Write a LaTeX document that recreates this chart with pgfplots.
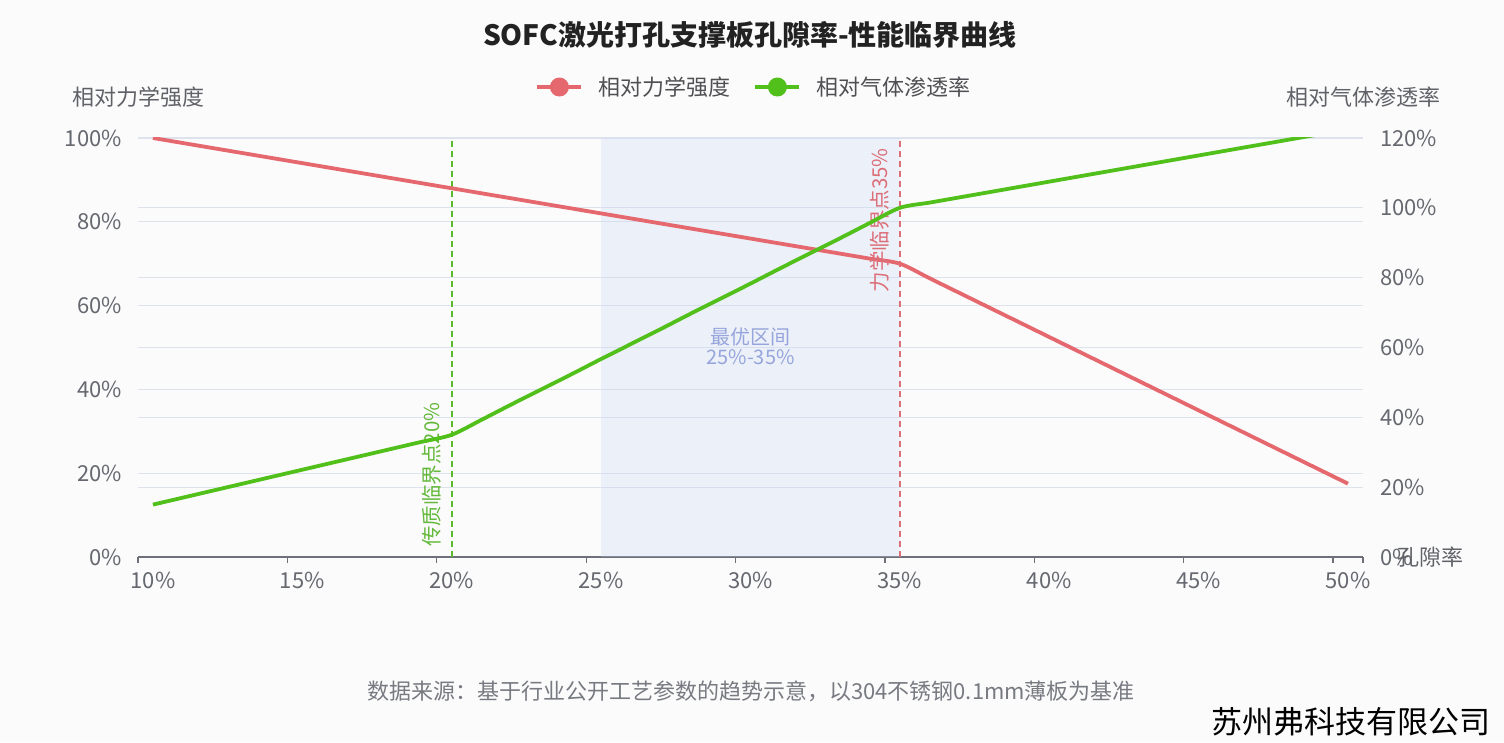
\documentclass[border=0pt]{standalone}
\usepackage{pgfplots}
\pgfplotsset{compat=1.18}
\usepackage{pgfplotstable}
\usepackage{fontspec}
\setmainfont{Noto Sans CJK SC}
\definecolor{bgcol}{RGB}{251,251,251}
\definecolor{gridcol}{RGB}{221,226,236}
\definecolor{axisgray}{RGB}{110,112,121}
\definecolor{labelgray}{RGB}{102,104,112}
\definecolor{namegray}{RGB}{96,98,104}
\definecolor{legendgray}{RGB}{80,80,84}
\definecolor{titlecol}{RGB}{34,34,34}
\definecolor{footcol}{RGB}{120,122,130}
\definecolor{redline}{RGB}{229,104,111}
\definecolor{greenline}{RGB}{82,192,26}
\definecolor{redlabel}{RGB}{220,110,120}
\definecolor{greendash}{RGB}{90,185,45}
\definecolor{greenlabel}{RGB}{100,185,60}
\definecolor{regionlabel}{RGB}{150,165,220}
\definecolor{shade}{RGB}{200,212,245}

% porosity (%), relative strength (%), relative permeability (%)
\pgfplotstableread{
x   s     p
10  100   15
11  98.8  17
12  97.6  19
13  96.4  21
14  95.2  23
15  94    25
16  92.8  27
17  91.6  29
18  90.4  31
19  89.2  33
20  88    35
21  86.8  39.3
22  85.6  43.7
23  84.4  48
24  83.2  52.3
25  82    56.7
26  80.8  61
27  79.6  65.3
28  78.4  69.7
29  77.2  74
30  76    78.3
31  74.8  82.7
32  73.6  87
33  72.4  91.3
34  71.2  95.7
35  70    100
36  66.5  101.5
37  63    103
38  59.5  104.5
39  56    106
40  52.5  107.5
41  49    109
42  45.5  110.5
43  42    112
44  38.5  113.5
45  35    115
46  31.5  116.5
47  28    118
48  24.5  119.5
49  21    121
50  17.5  122.5
}\datatable

\begin{document}
\begin{tikzpicture}
\path[use as bounding box] (0,0) rectangle (1504pt,742pt);
\fill[bgcol] (0,0) rectangle (1504pt,742pt);

\begin{axis}[
  at={(138pt,185pt)}, anchor=south west,
  scale only axis, width=1225pt, height=419pt,
  xmin=9.5, xmax=50.5, ymin=0, ymax=100,
  axis x line*=bottom, axis y line*=left,
  x axis line style={draw=axisgray, line width=1.5pt, -},
  y axis line style={draw=none},
  xtick={10,15,20,25,30,35,40,45,50},
  xticklabels={10\%,15\%,20\%,25\%,30\%,35\%,40\%,45\%,50\%},
  major tick length=0pt,
  extra x ticks={9.5,14.5,19.5,24.5,29.5,34.5,39.5,44.5,49.5,50.5},
  extra x tick labels={},
  extra x tick style={grid=none, major tick length=6pt, tick align=outside,
     major tick style={draw=axisgray, line width=1.3pt}},
  ytick={0,20,40,60,80,100},
  yticklabels={0\%,20\%,40\%,60\%,80\%,100\%},
  extra y ticks={16.6667,33.3333,50,66.6667,83.3333},
  extra y tick labels={},
  extra y tick style={grid=major, major tick length=0pt},
  ymajorgrids,
  major grid style={draw=gridcol, line width=1.3pt},
  tick label style={font=\fontsize{22}{26}\selectfont, text=labelgray},
  xticklabel style={anchor=north, inner sep=0pt, yshift=-15pt},
  yticklabel style={anchor=east, inner sep=0pt, xshift=-16pt},
  legend columns=2,
  legend style={at={(0.502,1.1217)}, anchor=center, draw=none, fill=none,
     inner sep=0pt, font=\fontsize{22}{26}\selectfont, text=legendgray,
     nodes={inner sep=0pt},
     /tikz/every odd column/.append style={column sep=15pt},
     /tikz/every even column/.append style={column sep=23pt}},
  legend image code/.code={\draw[#1, line width=4pt] (0pt,0pt) -- (44pt,0pt);
     \fill[#1, draw=none] (22pt,0pt) circle (9.5pt);},
]
\addplot[forget plot, draw=none, fill=shade, fill opacity=0.28]
  coordinates {(25,100) (35,100)} \closedcycle;
\addplot[forget plot, color=greendash, line width=1.6pt, dash pattern=on 6pt off 4pt]
  coordinates {(20,0) (20,100)};
\addplot[forget plot, color=redlabel, line width=1.6pt, dash pattern=on 6pt off 4pt]
  coordinates {(35,0) (35,100)};
\addplot[smooth, color=redline, line width=3.8pt] table[x=x, y=s] {\datatable};
\addlegendentry{相对力学强度}
\addlegendimage{smooth, color=greenline, line width=3.8pt}
\addlegendentry{相对气体渗透率}
\node[rotate=90, anchor=south west, inner sep=0pt, text=greenlabel,
  font=\fontsize{20.5}{22}\selectfont, xshift=10pt, yshift=10pt]
  at (axis cs:20,0) {传质临界点20\%};
\node[rotate=90, anchor=south east, inner sep=0pt, text=redlabel,
  font=\fontsize{20.5}{22}\selectfont, xshift=-10pt, yshift=10pt]
  at (axis cs:35,100) {力学临界点35\%};
\node[align=center, text=regionlabel, font=\fontsize{20}{20}\selectfont]
  at (axis cs:30,50.4) {最优区间\\25\%-35\%};
\end{axis}

\begin{axis}[
  at={(138pt,185pt)}, anchor=south west,
  scale only axis, width=1225pt, height=419pt,
  xmin=9.5, xmax=50.5, ymin=0, ymax=120,
  axis x line=none, axis y line*=right,
  y axis line style={draw=none},
  major tick length=0pt,
  ytick={0,20,40,60,80,100,120},
  yticklabels={0\%,20\%,40\%,60\%,80\%,100\%,120\%},
  tick label style={font=\fontsize{22}{26}\selectfont, text=labelgray},
  yticklabel style={anchor=west, inner sep=0pt, xshift=17pt},
]
\addplot[smooth, color=greenline, line width=3.8pt] table[x=x, y=p] {\datatable};
\end{axis}

\node[font=\fontsize{28}{32}\selectfont\bfseries, text=titlecol] at (750pt,707pt)
  {SOFC激光打孔支撑板孔隙率-性能临界曲线};
\node[font=\fontsize{22}{26}\selectfont, text=namegray] at (138pt,645pt) {相对力学强度};
\node[font=\fontsize{22}{26}\selectfont, text=namegray] at (1363pt,645pt) {相对气体渗透率};
\node[font=\fontsize{22}{26}\selectfont, text=namegray, anchor=west, inner sep=0pt]
  at (1397pt,185pt) {孔隙率};
\node[font=\fontsize{22}{26}\selectfont, text=footcol] at (751pt,51pt)
  {数据来源：基于行业公开工艺参数的趋势示意，以304不锈钢0.1mm薄板为基准};
\node[font=\fontsize{31}{34}\selectfont, text=black] at (1351pt,20pt)
  {苏州弗科技有限公司};
\end{tikzpicture}
\end{document}
